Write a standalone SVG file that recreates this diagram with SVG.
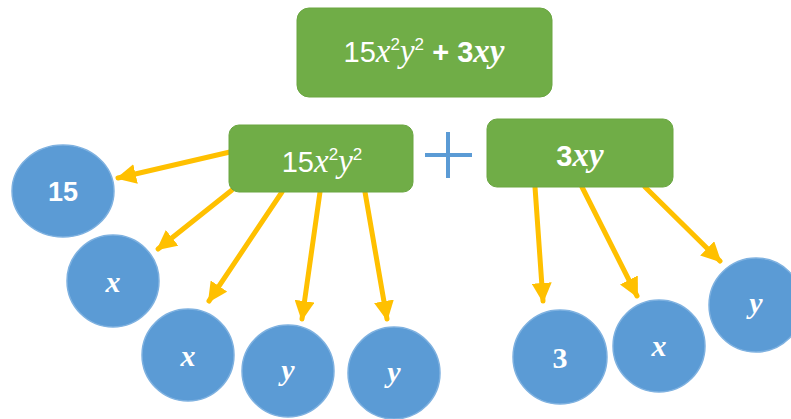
<svg xmlns="http://www.w3.org/2000/svg" width="791" height="419" viewBox="0 0 791 419">
<style>
.box{fill:#70ad47;stroke:#6aa641;stroke-width:1}
.circ{fill:#5b9bd5;stroke:#7eb1e0;stroke-width:1.5}
.t{fill:#ffffff;font-family:"Liberation Sans",Arial,sans-serif;text-anchor:middle}
.v{font-family:"Liberation Serif","DejaVu Serif",serif;font-style:italic}
.s{font-family:"Liberation Serif","DejaVu Serif",serif}
.arr{stroke:#ffc000;stroke-width:5;fill:none;stroke-linecap:round;marker-end:url(#ah)}
</style>
<defs>
<marker id="ah" viewBox="0 0 10 10" refX="9" refY="5" markerWidth="20" markerHeight="20" markerUnits="userSpaceOnUse" orient="auto">
<path d="M0,0 L10,5 L0,10 z" fill="#ffc000"/>
</marker>
</defs>
<rect width="791" height="419" fill="#ffffff"/>
<g id="connectors">
<line class="arr" x1="230" y1="152" x2="118" y2="178"/>
<line class="arr" x1="232" y1="190" x2="158" y2="249"/>
<line class="arr" x1="282" y1="192" x2="209" y2="301"/>
<line class="arr" x1="320" y1="192" x2="302" y2="319"/>
<line class="arr" x1="365" y1="192" x2="387" y2="319"/>
<line class="arr" x1="535" y1="187" x2="543" y2="301"/>
<line class="arr" x1="582" y1="187" x2="637" y2="296"/>
<line class="arr" x1="645" y1="187" x2="720" y2="261"/>
</g>
<g id="top">
<rect class="box" x="297" y="8" width="255" height="89" rx="12"/>
<text class="t" x="424" y="62" font-size="29">15<tspan class="v" font-size="33">x</tspan><tspan font-size="17" dy="-12">2</tspan><tspan class="v" font-size="33" dy="12">y</tspan><tspan font-size="17" dy="-12">2</tspan><tspan dy="12" font-weight="bold"> + 3</tspan><tspan class="v" font-size="33" font-weight="bold">xy</tspan></text>
</g>
<g id="left">
<rect class="box" x="229" y="125" width="184" height="67" rx="10"/>
<text class="t" x="322" y="172" font-size="29">15<tspan class="v" font-size="33">x</tspan><tspan font-size="17" dy="-12">2</tspan><tspan class="v" font-size="33" dy="12">y</tspan><tspan font-size="17" dy="-12">2</tspan></text>
</g>
<g id="plus">
<line x1="425" y1="155" x2="472" y2="155" stroke="#5b9bd5" stroke-width="4"/>
<line x1="448" y1="132" x2="448" y2="178" stroke="#5b9bd5" stroke-width="4"/>
</g>
<g id="right">
<rect class="box" x="487" y="119" width="186" height="68" rx="10"/>
<text class="t" x="580" y="166" font-size="29" font-weight="bold">3<tspan class="v" font-size="33">xy</tspan></text>
</g>
<g id="c15">
<ellipse class="circ" cx="63" cy="191" rx="51" ry="46"/>
<text class="t" x="63" y="201" font-size="27" font-weight="bold">15</text>
</g>
<g id="cx1">
<circle class="circ" cx="113" cy="281" r="46"/>
<text class="t v" x="113" y="292" font-size="30" font-weight="bold">x</text>
</g>
<g id="cx2">
<circle class="circ" cx="188" cy="355" r="46"/>
<text class="t v" x="188" y="366" font-size="30" font-weight="bold">x</text>
</g>
<g id="cy1">
<circle class="circ" cx="288" cy="371" r="46"/>
<text class="t v" x="288" y="380" font-size="30" font-weight="bold">y</text>
</g>
<g id="cy2">
<circle class="circ" cx="394" cy="373" r="46"/>
<text class="t v" x="394" y="382" font-size="30" font-weight="bold">y</text>
</g>
<g id="c3">
<circle class="circ" cx="560" cy="357" r="47"/>
<text class="t s" x="560" y="368" font-size="30" font-weight="bold">3</text>
</g>
<g id="cx3">
<circle class="circ" cx="659" cy="346" r="46"/>
<text class="t v" x="659" y="356" font-size="30" font-weight="bold">x</text>
</g>
<g id="cy3">
<circle class="circ" cx="756" cy="305" r="47"/>
<text class="t v" x="756" y="313" font-size="30" font-weight="bold">y</text>
</g>
</svg>
